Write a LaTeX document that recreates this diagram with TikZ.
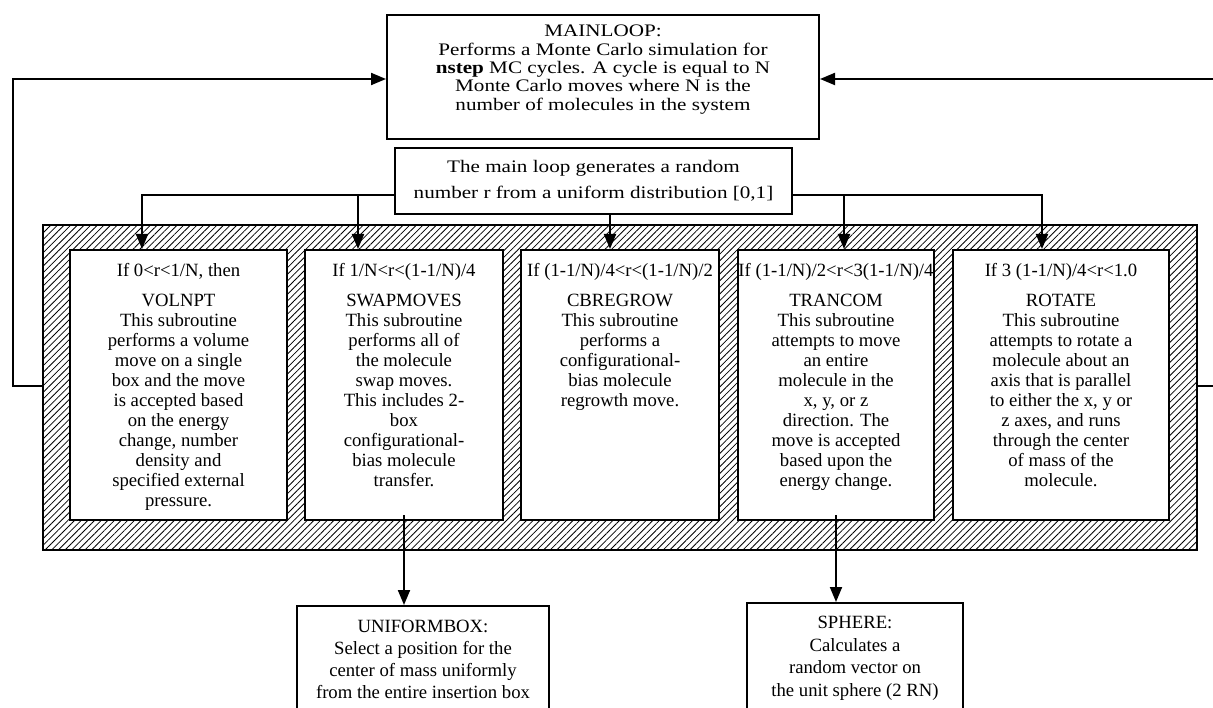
\documentclass[tikz,border=0pt]{standalone}
\usepackage{fontspec}
\setmainfont{Liberation Serif}
\newfontfamily\widefont[FakeStretch=1.2]{Liberation Serif}
\usepackage{tikz}
\usetikzlibrary{positioning,arrows.meta,patterns.meta}

\begin{document}
\begin{tikzpicture}[
    x=1pt, y=-1pt,
    font=\fontsize{18.7}{20}\selectfont,
    box/.style={rectangle, draw, line width=2pt, fill=white, inner sep=0pt},
    txt/.style={inner sep=0pt, align=center},
    hatch/.style={rectangle, draw, line width=2pt, inner sep=0pt,
        pattern={Lines[angle=45, distance=4.7pt, line width=0.8pt]}},
    arr/.style={line width=2pt, -{Triangle[length=15pt, width=12pt]}},
    >=Latex
]
\useasboundingbox (0,0) rectangle (1213,708);
\clip (0,0) rectangle (1213,708);

% Main loop and random number
\node[box, minimum width=432pt, minimum height=124pt, anchor=north west] (main) at (386,14) {};
\node[txt, font=\widefont\fontsize{17.6}{18.3}\selectfont, below=11pt of main.north] (maintxt) {MAINLOOP:\\
    Performs a Monte Carlo simulation for\\
    \textbf{nstep} MC cycles. A cycle is equal to N\\
    Monte Carlo moves where N is the\\
    number of molecules in the system};
\node[box, minimum width=397pt, minimum height=66pt, anchor=north west] (rand) at (394,147) {};
\node[txt, font=\widefont\fontsize{17.6}{26}\selectfont, below=13pt of rand.north] (randtxt) {The main loop generates a random\\
    number r from a uniform distribution [0,1]};

% Hatched frame with the five moves
\node[hatch, minimum width=1154pt, minimum height=325pt, anchor=north west] (frame) at (43,225) {};

\node[box, minimum width=217pt, minimum height=270pt, anchor=north west] (vol) at (69,249) {};
\node[txt, below=14pt of vol.north] (voltxt) {If 0<r<1/N, then\\[10pt]
    VOLNPT\\ This subroutine\\ performs a volume\\ move on a single\\ box and the move\\
    is accepted based\\ on the energy\\ change, number\\ density and\\ specified external\\ pressure.};

\node[box, minimum width=198pt, minimum height=270pt, anchor=north west] (swap) at (304,249) {};
\node[txt, below=14pt of swap.north] (swaptxt) {If 1/N<r<(1-1/N)/4\\[10pt]
    SWAPMOVES\\ This subroutine\\ performs all of\\ the molecule\\ swap moves.\\
    This includes 2-\\ box\\ configurational-\\ bias molecule\\ transfer.};

\node[box, minimum width=198pt, minimum height=270pt, anchor=north west] (cbr) at (520,249) {};
\node[txt, below=14pt of cbr.north] (cbrtxt) {If (1-1/N)/4<r<(1-1/N)/2\\[10pt]
    CBREGROW\\ This subroutine\\ performs a\\ configurational-\\ bias molecule\\ regrowth move.};

\node[box, minimum width=196pt, minimum height=270pt, anchor=north west] (tran) at (737,249) {};
\node[txt, below=14pt of tran.north] (trantxt) {If (1-1/N)/2<r<3(1-1/N)/4\\[10pt]
    TRANCOM\\ This subroutine\\ attempts to move\\ an entire\\ molecule in the\\ x, y, or z\\
    direction. The\\ move is accepted\\ based upon the\\ energy change.};

\node[box, minimum width=216pt, minimum height=270pt, anchor=north west] (rot) at (952,249) {};
\node[txt, below=14pt of rot.north] (rottxt) {If 3 (1-1/N)/4<r<1.0\\[10pt]
    ROTATE\\ This subroutine\\ attempts to rotate a\\ molecule about an\\ axis that is parallel\\
    to either the x, y or\\ z axes, and runs\\ through the center\\ of mass of the\\ molecule.};

% Helper subroutines
\node[box, minimum width=252pt, minimum height=130pt, anchor=north west] (unibox) at (296,605) {};
\node[txt, font=\fontsize{18.7}{22}\selectfont, below=15pt of unibox.north] (unitxt) {UNIFORMBOX:\\
    Select a position for the\\ center of mass uniformly\\ from the entire insertion box};
\node[box, minimum width=216pt, minimum height=130pt, anchor=north west] (sph) at (746,602) {};
\node[txt, font=\fontsize{18.7}{22.5}\selectfont, below=14pt of sph.north] (sphtxt) {SPHERE:\\
    Calculates a\\ random vector on\\ the unit sphere (2 RN)};

% Branches from the random number
\coordinate (b1) at (142,195);
\coordinate (b2) at (358,195);
\coordinate (b3) at (610,195);
\coordinate (b4) at (844,195);
\coordinate (b5) at (1042,195);
\draw[arr] (rand.west |- b1) -| (vol.north -| b1);
\draw[arr] (b2) -- (swap.north -| b2);
\draw[arr] (rand.south -| b3) -- (cbr.north -| b3);
\draw[arr] (rand.east |- b5) -| (rot.north -| b5);
\draw[arr] (b4) -- (tran.north -| b4);

% Loops back to the main loop
\coordinate (ll) at (13,386);
\coordinate (lt) at (13,79);
\coordinate (rr) at (1216,386);
\coordinate (rt) at (1216,79);
\draw[arr] (frame.west |- ll) -- (ll) -- (lt) -- (main.west |- lt);
\draw[arr] (frame.east |- rr) -- (rr) -- (rt) -- (main.east |- rt);

% Calls to the helpers
\draw[arr] ([yshift=6pt]swap.south) -- (unibox.north -| swap.south);
\draw[arr] ([yshift=6pt]tran.south) -- (sph.north -| tran.south);

\end{tikzpicture}
\end{document}
